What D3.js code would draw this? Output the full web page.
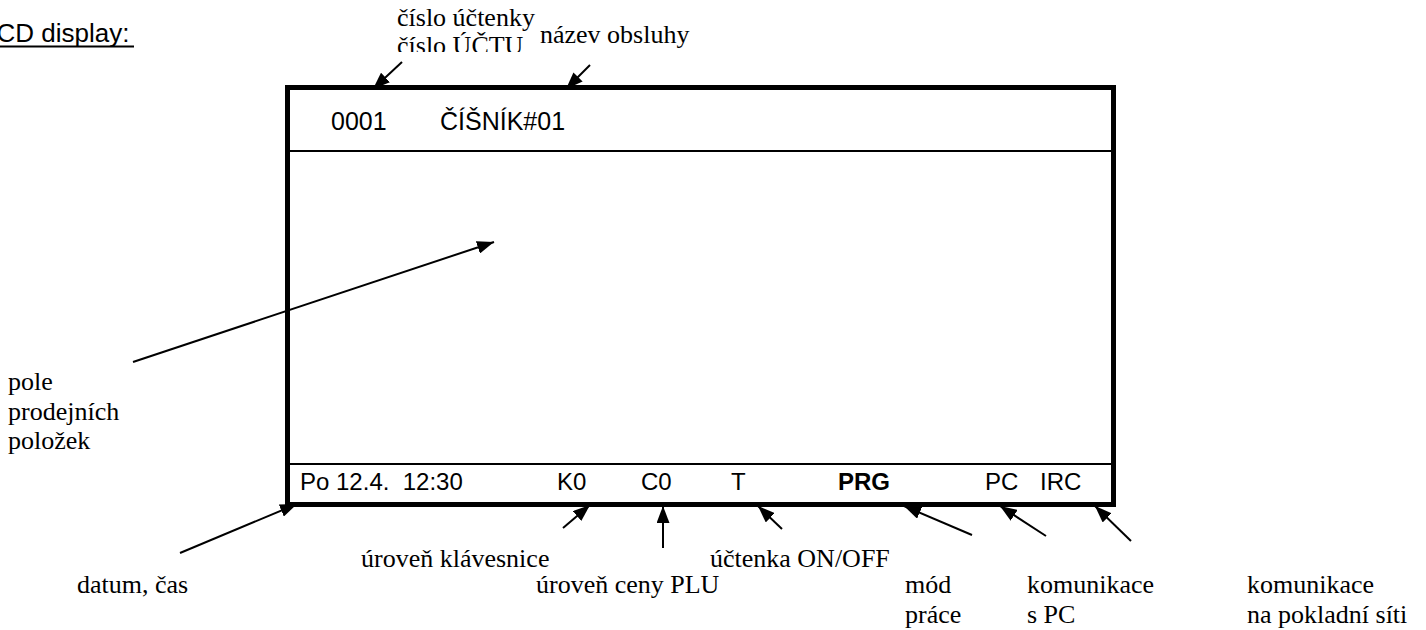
<!DOCTYPE html>
<html lang="cs">
<head>
<meta charset="UTF-8">
<title>LCD display</title>
<style>
  body, html { margin: 0; padding: 0; background: #fff; }
  svg { display: block; }
</style>
</head>
<body>
<svg id="svg" width="1426" height="630"></svg>
<script src="https://cdn.jsdelivr.net/npm/d3@7"></script>
<script>
// --- data: texts shown on the display and around it ---
const headerItems = ['0001', 'ČÍŠNÍK#01']
const statusItems = ['Po 12.4.  12:30', 'K0', 'C0', 'T', 'PRG', 'PC', 'IRC']
const statusBold = ['PRG']
const topLabels = [['číslo účtenky', 'číslo ÚČTU'], ['název obsluhy']]
const sideLabel = ['pole', 'prodejních', 'položek']
const bottomLabels = [
  ['datum, čas'],
  ['úroveň klávesnice'],
  ['úroveň ceny PLU'],
  ['účtenka ON/OFF'],
  ['mód', 'práce'],
  ['komunikace', 's PC'],
  ['komunikace', 'na pokladní síti']
]

// --- layout (pixels) ---
const box = { x0: 287.5, y0: 87.5, x1: 1113.5, y1: 504.5 }
const headerLineY = 151
const statusLineY = 464
const headerX = [331, 440]
const statusX = [300, 557, 641, 731, 838, 985, 1040]
const serif = 'Liberation Serif, Times New Roman, serif'
const sans = 'Liberation Sans, Arial, sans-serif'

const topPos = [{ x: 397, y: 26, dy: 28 }, { x: 540, y: 43, dy: 25 }]
const sidePos = { x: 8, y: 390, dy: 29.5 }
const bottomPos = [
  { x: 77, y: 593 }, { x: 361, y: 567 }, { x: 536, y: 593 }, { x: 710, y: 567 },
  { x: 905, y: 593 }, { x: 1027, y: 593 }, { x: 1247, y: 593 }
]
const lineDy = 30

// arrows: [from, to(tip)]
const arrows = [
  [[402, 62], [373, 89]],
  [[590, 65], [566, 89]],
  [[133, 362], [494, 242]],
  [[180, 553], [297, 504]],
  [[563, 528], [590, 505]],
  [[663, 548], [663, 506]],
  [[782, 529], [758, 506]],
  [[972, 535], [904, 506]],
  [[1046, 536], [1000, 506]],
  [[1131, 541], [1095, 506]]
]

const svg = d3.select('#svg')
const defs = svg.append('defs')

defs.append('marker')
  .attr('id', 'head')
  .attr('viewBox', '0 0 17 13')
  .attr('refX', 17).attr('refY', 6.5)
  .attr('markerWidth', 17).attr('markerHeight', 13)
  .attr('markerUnits', 'userSpaceOnUse')
  .attr('orient', 'auto')
  .append('path')
  .attr('d', 'M0,0 L17,6.5 L0,13 z')
  .attr('fill', '#000')

defs.append('clipPath').attr('id', 'clipTop')
  .append('rect').attr('x', 0).attr('y', 0).attr('width', 1426).attr('height', 52)

// title (left part cut off like the original)
svg.append('text')
  .attr('x', -18).attr('y', 42)
  .attr('font-family', sans).attr('font-size', 26)
  .text('LCD display:')
svg.append('line')
  .attr('x1', 0).attr('x2', 134).attr('y1', 46.5).attr('y2', 46.5)
  .attr('stroke', '#000').attr('stroke-width', 2)

// display frame
svg.append('rect')
  .attr('x', box.x0).attr('y', box.y0)
  .attr('width', box.x1 - box.x0).attr('height', box.y1 - box.y0)
  .attr('fill', 'none').attr('stroke', '#000').attr('stroke-width', 5)

svg.selectAll('line.div')
  .data([headerLineY, statusLineY])
  .join('line')
  .attr('class', 'div')
  .attr('x1', box.x0).attr('x2', box.x1)
  .attr('y1', d => d).attr('y2', d => d)
  .attr('stroke', '#000').attr('stroke-width', 2)

svg.selectAll('text.head')
  .data(headerItems)
  .join('text')
  .attr('class', 'head')
  .attr('x', (d, i) => headerX[i]).attr('y', 130)
  .attr('font-family', sans).attr('font-size', 25)
  .text(d => d)

svg.selectAll('text.status')
  .data(statusItems)
  .join('text')
  .attr('class', 'status')
  .attr('x', (d, i) => statusX[i]).attr('y', 490)
  .attr('font-family', sans).attr('font-size', 24)
  .attr('font-weight', d => statusBold.includes(d) ? 'bold' : 'normal')
  .style('white-space', 'pre')
  .text(d => d)

// labels
const drawLines = (g, lines, x, y, dy) => {
  const t = g.append('text')
    .attr('font-family', serif).attr('font-size', 26)
  lines.forEach((s, i) => {
    t.append('tspan').attr('x', x).attr('y', y + i * dy).text(s)
  })
  return t
}

topLabels.forEach((lines, i) => {
  const p = topPos[i]
  drawLines(svg, lines, p.x, p.y, p.dy).attr('clip-path', 'url(#clipTop)')
})
drawLines(svg, sideLabel, sidePos.x, sidePos.y, sidePos.dy)
bottomLabels.forEach((lines, i) => {
  const p = bottomPos[i]
  drawLines(svg, lines, p.x, p.y, lineDy)
})

// arrows
svg.selectAll('line.arrow')
  .data(arrows)
  .join('line')
  .attr('class', 'arrow')
  .attr('x1', d => d[0][0]).attr('y1', d => d[0][1])
  .attr('x2', d => d[1][0]).attr('y2', d => d[1][1])
  .attr('stroke', '#000').attr('stroke-width', 2)
  .attr('marker-end', 'url(#head)')
</script>
</body>
</html>
